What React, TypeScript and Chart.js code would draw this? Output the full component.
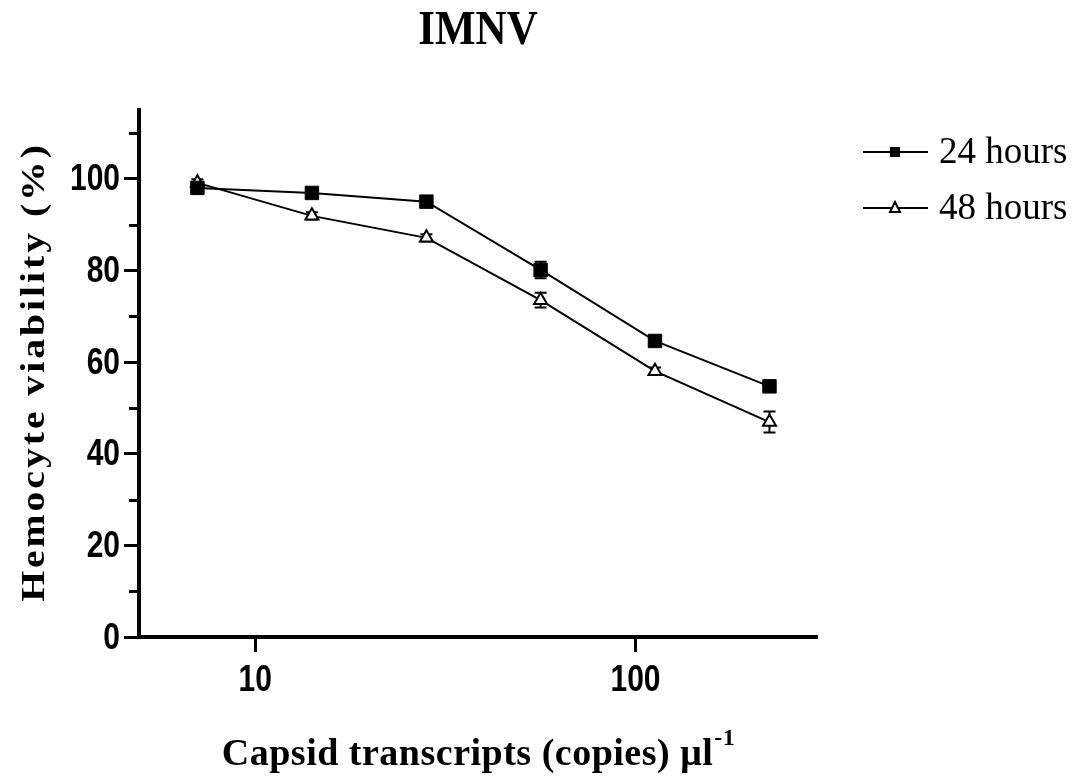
import { useEffect, useRef } from "react";
import { Chart, registerables } from "chart.js";

Chart.register(...registerables);

// Dose of capsid transcripts (copies/µl) on a log axis
const doses = [7.05, 14.1, 28.2, 56.3, 112.5, 225];
// Mean hemocyte viability (%) per exposure time
const viability24h = [98.0, 96.9, 95.0, 80.1, 64.6, 54.7];
const viability48h = [99.1, 91.9, 87.1, 73.5, 58.0, 46.9];
// Error (± SEM) per point
const error24h = [0.6, 0.6, 0.6, 1.8, 0.8, 0.8];
const error48h = [0.8, 0.8, 0.8, 1.6, 0.8, 2.3];

const seriesLabels = ["24 hours", "48 hours"];
const xTickValues = [10, 100];
const yMajorStep = 20;
const yMinorStep = 10;

const chartTitle = "IMNV";
const yAxisTitle = "Hemocyte viability (%)";
const xAxisTitle = "Capsid transcripts (copies) \u03bcl";
const xAxisTitleSup = "-1";

const SERIF = "'Liberation Serif', 'Times New Roman', serif";
const SANS = "'Liberation Sans', Arial, sans-serif";
// tick labels are drawn in a tall, narrow bold sans
const TICK_FONT = `bold 30px ${SANS}`;
const TICK_STRETCH = 1.25;

function drawTallText(ctx: any, text: string, x: number, y: number, align: string) {
  ctx.save();
  ctx.translate(x, y);
  ctx.scale(1, TICK_STRETCH);
  ctx.font = TICK_FONT;
  ctx.textAlign = align;
  ctx.textBaseline = "middle";
  ctx.fillText(text, 0, 1);
  ctx.restore();
}

const decorPlugin = {
  id: "decor",
  beforeDatasetsDraw(chart: any) {
    const ctx = chart.ctx;
    const ys = chart.scales.y;
    const errs = [error24h, error48h];
    const vals = [viability24h, viability48h];
    ctx.save();
    ctx.strokeStyle = "#000";
    ctx.lineWidth = 2;
    errs.forEach((err, i) => {
      const meta = chart.getDatasetMeta(i);
      meta.data.forEach((pt: any, j: number) => {
        const x = pt.x;
        const top = ys.getPixelForValue(vals[i][j] + err[j]);
        const bot = ys.getPixelForValue(vals[i][j] - err[j]);
        ctx.beginPath();
        ctx.moveTo(x, top);
        ctx.lineTo(x, bot);
        ctx.moveTo(x - 6, top);
        ctx.lineTo(x + 6, top);
        ctx.moveTo(x - 6, bot);
        ctx.lineTo(x + 6, bot);
        ctx.stroke();
      });
    });
    ctx.restore();
  },
  afterDraw(chart: any) {
    const ctx = chart.ctx;
    const area = chart.chartArea;
    const xs = chart.scales.x;
    const ys = chart.scales.y;
    ctx.save();
    ctx.fillStyle = "#000";

    // minor ticks on the y axis
    ctx.strokeStyle = "#000";
    ctx.lineWidth = 3;
    for (let v = yMinorStep; v <= ys.max; v += yMajorStep) {
      const y = Math.round(ys.getPixelForValue(v)) + 0.5;
      ctx.beginPath();
      ctx.moveTo(area.left - 10, y);
      ctx.lineTo(area.left, y);
      ctx.stroke();
    }

    // tick labels
    ys.ticks.forEach((t: any) => {
      drawTallText(ctx, String(t.value), 120, ys.getPixelForValue(t.value), "right");
    });
    xs.ticks.forEach((t: any) => {
      drawTallText(ctx, String(t.value), xs.getPixelForValue(t.value), 679, "center");
    });

    // chart title
    ctx.textAlign = "center";
    ctx.textBaseline = "middle";
    ctx.save();
    ctx.translate(478, 31);
    ctx.scale(1, 1.15);
    ctx.font = `bold 43px ${SERIF}`;
    ctx.fillText(chartTitle, 0, 0);
    ctx.restore();

    // y axis title
    ctx.save();
    ctx.translate(35, 372);
    ctx.rotate(-Math.PI / 2);
    ctx.scale(1.2, 1);
    ctx.font = `bold 33px ${SERIF}`;
    (ctx as any).letterSpacing = "2.5px";
    ctx.textAlign = "center";
    ctx.textBaseline = "middle";
    ctx.fillText(yAxisTitle, 0, 0);
    ctx.restore();

    // x axis title with superscript
    ctx.save();
    (ctx as any).letterSpacing = "0.5px";
    ctx.font = `bold 38px ${SERIF}`;
    const mainW = ctx.measureText(xAxisTitle).width;
    ctx.font = `bold 24px ${SERIF}`;
    const supW = ctx.measureText(xAxisTitleSup).width;
    const startX = 478 - (mainW + supW) / 2;
    ctx.textAlign = "left";
    ctx.textBaseline = "alphabetic";
    ctx.font = `bold 38px ${SERIF}`;
    ctx.fillText(xAxisTitle, startX, 765);
    ctx.font = `bold 24px ${SERIF}`;
    ctx.fillText(xAxisTitleSup, startX + mainW + 1, 745);
    ctx.restore();

    // legend
    const legendY = [152, 208];
    chart.data.datasets.forEach((ds: any, i: number) => {
      const y = legendY[i];
      ctx.strokeStyle = "#000";
      ctx.lineWidth = 2;
      ctx.beginPath();
      ctx.moveTo(863, y);
      ctx.lineTo(928, y);
      ctx.stroke();
      const cx = 895;
      if (i === 0) {
        ctx.fillStyle = "#000";
        ctx.fillRect(cx - 5, y - 5, 10, 10);
      } else {
        ctx.fillStyle = "#fff";
        ctx.beginPath();
        ctx.moveTo(cx, y - 6);
        ctx.lineTo(cx + 5, y + 4);
        ctx.lineTo(cx - 5, y + 4);
        ctx.closePath();
        ctx.fill();
        ctx.stroke();
      }
      ctx.fillStyle = "#000";
      ctx.font = `37px ${SERIF}`;
      ctx.textAlign = "left";
      ctx.textBaseline = "middle";
      ctx.fillText(ds.label, 939, y + 1);
    });

    ctx.restore();
  },
};

export default function App() {
  const canvasRef = useRef<HTMLCanvasElement | null>(null);

  useEffect(() => {
    const canvas = canvasRef.current;
    if (!canvas) return;
    const chart = new Chart(canvas, {
      type: "scatter",
      data: {
        datasets: [
          {
            label: seriesLabels[0],
            data: doses.map((x, i) => ({ x, y: viability24h[i] })),
            showLine: true,
            borderColor: "#000",
            borderWidth: 2,
            pointStyle: "rect",
            pointRadius: 9.5,
            pointBackgroundColor: "#000",
            pointBorderColor: "#000",
            pointBorderWidth: 1,
          },
          {
            label: seriesLabels[1],
            data: doses.map((x, i) => ({ x, y: viability48h[i] })),
            showLine: true,
            borderColor: "#000",
            borderWidth: 2,
            pointStyle: "triangle",
            pointRadius: 7.5,
            pointBackgroundColor: "#fff",
            pointBorderColor: "#000",
            pointBorderWidth: 2,
          },
        ],
      },
      options: {
        responsive: false,
        maintainAspectRatio: false,
        animation: false,
        layout: { padding: { left: 0, right: 261, top: 110, bottom: 0 } },
        plugins: {
          legend: { display: false },
          title: { display: false },
          tooltip: { enabled: false },
        },
        scales: {
          x: {
            type: "logarithmic",
            min: 4.95,
            max: 300,
            border: { display: true, width: 4, color: "#000" },
            grid: {
              drawOnChartArea: false,
              drawTicks: true,
              tickLength: 15,
              tickWidth: 3,
              tickColor: "#000",
            },
            afterBuildTicks: (scale: any) => {
              scale.ticks = xTickValues.map((value) => ({ value, major: true }));
            },
            ticks: { display: false, autoSkip: false },
            afterFit: (scale: any) => {
              scale.height = 143;
            },
          },
          y: {
            min: 0,
            max: 115,
            border: { display: true, width: 4, color: "#000" },
            grid: {
              drawOnChartArea: false,
              drawTicks: true,
              tickLength: 15,
              tickWidth: 3,
              tickColor: "#000",
            },
            afterBuildTicks: (scale: any) => {
              const t = [];
              for (let v = 0; v <= 100; v += yMajorStep) t.push({ value: v });
              scale.ticks = t;
            },
            ticks: { display: false, autoSkip: false },
            afterFit: (scale: any) => {
              scale.width = 139;
            },
          },
        },
      },
      plugins: [decorPlugin],
    });
    return () => chart.destroy();
  }, []);

  return (
    <div style={{ position: "absolute", left: 0, top: 0, width: 1078, height: 780, background: "#fff" }}>
      <canvas ref={canvasRef} width={1078} height={780} />
    </div>
  );
}
